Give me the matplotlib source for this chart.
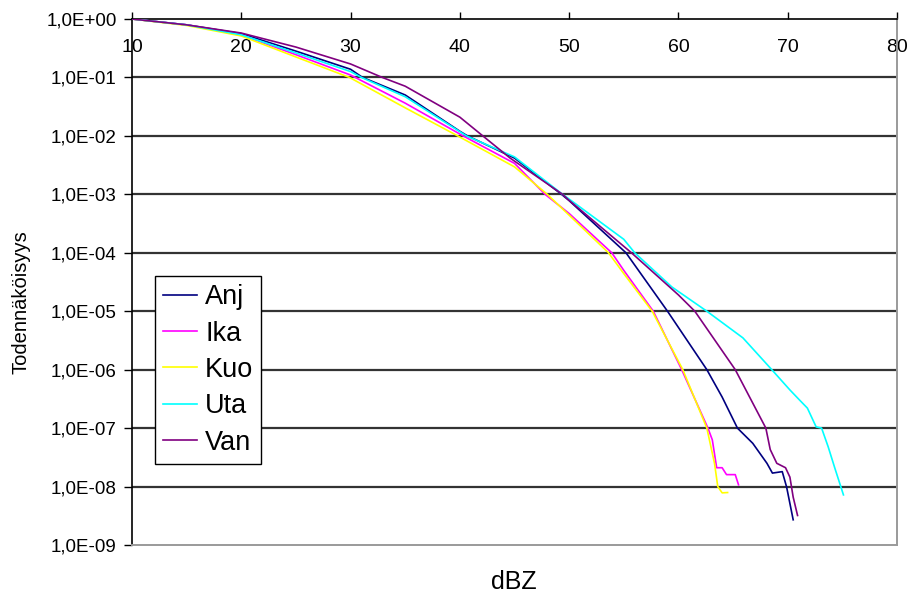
import math
import matplotlib
matplotlib.use("Agg")
import matplotlib.pyplot as plt
from matplotlib.ticker import FixedLocator, FuncFormatter, NullLocator

plt.rcParams['font.family'] = ['Liberation Sans', 'DejaVu Sans']

# Exceedance probability curves (dBZ, probability)
anj_x = [10, 15, 20, 25, 30, 31.1, 35, 40, 40.7, 45, 49.3, 50, 55.2, 59.0, 62.6, 64.0, 65.4, 66.8, 68.1, 68.6, 69.5, 69.9, 70.5]
anj_p = [1.0, 0.794, 0.562, 0.282, 0.138, 0.1, 0.0501, 0.0120, 0.01, 4.17e-3, 1e-3, 7.8e-4, 1e-4, 1e-5, 1e-6, 3.4e-7, 1e-7, 5.5e-8, 2.5e-8, 1.7e-8, 1.8e-8, 9.8e-9, 2.7e-9]

ika_x = [10, 15, 20, 25, 30, 35, 40.3, 45, 47.8, 50, 53.9, 55, 57.7, 60.3, 62.7, 63.1, 63.5, 64.0, 64.4, 65.2, 65.5]
ika_p = [1.0, 0.794, 0.537, 0.245, 0.110, 0.0363, 0.01, 3.39e-3, 1e-3, 4.7e-4, 1e-4, 5.0e-5, 1e-5, 1e-6, 1e-7, 6.3e-8, 2.1e-8, 2.1e-8, 1.6e-8, 1.6e-8, 1.07e-8]

kuo_x = [10, 15, 20, 25, 29.9, 35, 39.8, 45, 48.0, 50, 53.6, 55, 57.6, 60.4, 62.6, 63.3, 63.6, 64.0, 64.5]
kuo_p = [1.0, 0.776, 0.513, 0.224, 0.1, 0.0302, 0.01, 2.95e-3, 1e-3, 4.4e-4, 1e-4, 4.4e-5, 1e-5, 1e-6, 1e-7, 2.5e-8, 1e-8, 7.8e-9, 7.9e-9]

uta_x = [10, 15, 20, 25, 30, 31.0, 35, 40.6, 45, 49.4, 50, 55, 56.0, 59.4, 62.6, 65.9, 68.4, 70.2, 71.1, 71.8, 72.6, 73.1, 73.7, 74.3, 75.1]
uta_p = [1.0, 0.794, 0.537, 0.263, 0.126, 0.1, 0.0468, 0.01, 4.37e-3, 1e-3, 8.3e-4, 1.7e-4, 1e-4, 2.6e-5, 1e-5, 3.5e-6, 1.07e-6, 4.5e-7, 3.0e-7, 2.2e-7, 1.05e-7, 1e-7, 4.8e-8, 2.1e-8, 7.2e-9]

van_x = [10, 15, 20, 25, 30, 32.9, 35, 40, 42.1, 44.6, 49.4, 50, 55.7, 60, 61.5, 65.2, 68.0, 68.4, 69.0, 69.8, 70.2, 70.5, 70.9]
van_p = [1.0, 0.794, 0.575, 0.331, 0.170, 0.1, 0.0708, 0.0209, 0.01, 4.17e-3, 1e-3, 7.9e-4, 1e-4, 1.9e-5, 1e-5, 1e-6, 1e-7, 4.3e-8, 2.5e-8, 2.1e-8, 1.45e-8, 6.6e-9, 3.2e-9]

series = [
    ("Anj", anj_x, anj_p, "#000080"),
    ("Ika", ika_x, ika_p, "#FF00FF"),
    ("Kuo", kuo_x, kuo_p, "#FFFF00"),
    ("Uta", uta_x, uta_p, "#00FFFF"),
    ("Van", van_x, van_p, "#800080"),
]

x_ticks = [10, 20, 30, 40, 50, 60, 70, 80]
y_ticks = [1e0, 1e-1, 1e-2, 1e-3, 1e-4, 1e-5, 1e-6, 1e-7, 1e-8, 1e-9]

fig = plt.figure(figsize=(9.09, 5.97), dpi=100)
ax = fig.add_axes([132 / 909, 1 - 545 / 597, 765 / 909, 526 / 597])

for name, xs, ps, color in series:
    ax.plot(xs, ps, color=color, linewidth=1.2, label=name, zorder=3)

ax.set_yscale('log')
ax.set_xlim(10, 80)
ax.set_ylim(1e-9, 1e0)

# decade gridlines
for y in y_ticks[1:-1]:
    ax.axhline(y, color='#333333', linewidth=1.6, zorder=1)

ax.yaxis.set_major_locator(FixedLocator(y_ticks))
ax.yaxis.set_minor_locator(NullLocator())


def sci_label(v, pos):
    exp = int(round(math.log10(v)))
    sign = '+' if exp >= 0 else '-'
    return "1,0E%s%02d" % (sign, abs(exp))


ax.yaxis.set_major_formatter(FuncFormatter(sci_label))
ax.tick_params(axis='y', direction='out', length=6, width=1, pad=5,
               labelsize=13.5, color='black')

# x axis sits on the top line, labels drawn just inside the plot
ax.xaxis.set_major_locator(FixedLocator(x_ticks))
ax.xaxis.tick_top()
ax.tick_params(axis='x', which='major', direction='out', length=5, width=1,
               top=True, labeltop=True, bottom=False, labelbottom=False,
               pad=-31.5, labelsize=14, color='black')

ax.spines['top'].set_color('black')
ax.spines['left'].set_color('black')
ax.spines['top'].set_linewidth(1.2)
ax.spines['left'].set_linewidth(1.2)
ax.spines['right'].set_color('#9a9a9a')
ax.spines['bottom'].set_color('#9a9a9a')
ax.spines['right'].set_linewidth(1.4)
ax.spines['bottom'].set_linewidth(1.4)

fig.text(514 / 909, 1 - 582 / 597, "dBZ", ha='center', va='center', fontsize=18)
fig.text(21 / 909, 1 - 302 / 597, "Todennäköisyys", ha='center', va='center',
         rotation=90, fontsize=14.5)

leg = ax.legend(loc='upper left', bbox_to_anchor=(0.030, 0.511), borderaxespad=0,
                fontsize=19.5, frameon=True, fancybox=False, framealpha=1,
                edgecolor='black', handlelength=1.25, handletextpad=0.3,
                labelspacing=0.38, borderpad=0.3)
leg.get_frame().set_linewidth(1.0)
leg.set_zorder(5)

fig.savefig("out.png", dpi=100)
